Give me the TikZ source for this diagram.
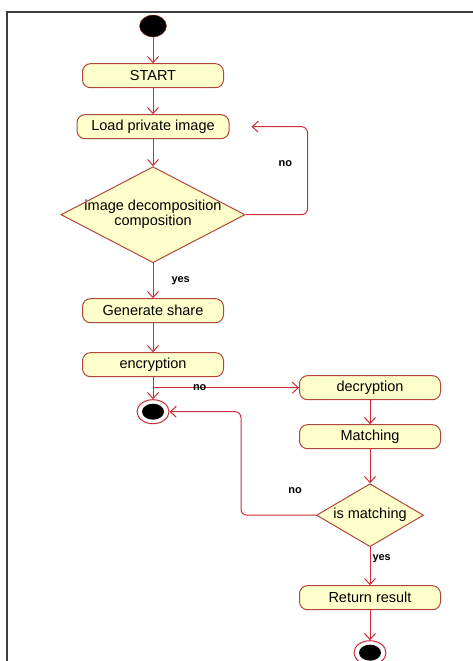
\documentclass[tikz,border=0pt]{standalone}
\usepackage{fontspec}
\setmainfont{Liberation Sans}
\usetikzlibrary{arrows.meta,shapes.geometric,positioning}
\definecolor{actfill}{RGB}{255,255,204}
\definecolor{actline}{RGB}{178,70,60}
\definecolor{flowred}{RGB}{205,45,55}
\definecolor{framegray}{RGB}{60,60,60}
\tikzstyle{every node}=[font=\fontsize{14.5}{15}\selectfont]

\begin{document}
\begin{tikzpicture}[
    x=1pt, y=-1pt,
    activity/.style={
        draw=actline,
        fill=actfill,
        line width=1pt,
        rounded corners=8pt,
        minimum width=141pt,
        minimum height=24pt,
        inner ysep=2pt},
    decision/.style={
        diamond,
        draw=actline,
        fill=actfill,
        line width=1pt,
        inner sep=0pt},
    initial/.style={
        ellipse,
        draw=actline,
        fill=black,
        minimum width=27pt,
        minimum height=22pt,
        inner sep=0pt},
    final/.style={
        ellipse,
        draw=flowred,
        fill=white,
        line width=1pt,
        minimum width=32pt,
        minimum height=24pt,
        inner sep=0pt,
        path picture={\fill[black] (path picture bounding box.center) ellipse (11pt and 8pt);}},
    guard/.style={
        font=\fontsize{11}{13}\selectfont\bfseries,
        inner sep=1pt},
    flow/.style={
        draw=flowred,
        line width=1pt,
        -{Straight Barb[length=6pt,width=11pt]}},
  ]
  \useasboundingbox (0,0) rectangle (473,661);
  % Frame
  \draw[framegray, line width=1.5pt] (7,661) -- (7,12) -- (473,12);
  % Initial state
  \node[initial] (init) at (153,26) {};
  % Main flow
  \node[activity, below=26pt of init] (start) {START};
  \node[activity, below=26pt of start, minimum width=152pt] (load) {Load private image};
  \node[decision, below=27pt of load, minimum width=184pt, minimum height=96pt,
        label={[align=center]center:image decomposition\\composition}] (decomp) {};
  \node[activity, below=35pt of decomp] (share) {Generate share};
  \node[activity, below=29pt of share] (encrypt) {encryption};
  \node[final, below=22pt of encrypt] (stop1) {};
  % Right branch
  \node[activity, right=75pt of encrypt, yshift=-23pt] (decrypt) {decryption};
  \node[activity, below=24pt of decrypt] (match) {Matching};
  \node[decision, below=34pt of match, minimum width=107pt, minimum height=63pt,
        label=center:is matching] (check) {};
  \node[activity, below=38pt of check] (result) {Return result};
  \node[final, below=30pt of result] (stop2) {};
  % Connectors
  \draw[flow] (init) -- (start);
  \draw[flow] (start) -- (load);
  \draw[flow] (load) -- (decomp);
  \draw[flow] (decomp) -- node[guard, right=17pt] {yes} (share);
  \draw[flow, rounded corners=6pt, shorten >=22pt] (decomp.east) -- ++(62,0)
      |- node[guard, pos=0.29, left=14pt] {no} (load.east);
  \draw[flow] (share) -- (encrypt);
  \draw[flow] (encrypt) -- (stop1);
  \coordinate (fork) at (encrypt.south |- decrypt.west);
  \draw[flow] (fork) -- node[guard, pos=0.32] {no} (decrypt);
  \draw[flow] (decrypt) -- (match);
  \draw[flow] (match) -- (check);
  \draw[flow, rounded corners=6pt] (check.west) -- node[guard, pos=0.28, above=20pt] {no} ++(-75,0)
      |- (stop1.east);
  \draw[flow] (check) -- node[guard, pos=0.3, right=1pt] {yes} (result);
  \draw[flow] (result) -- (stop2);
\end{tikzpicture}
\end{document}
